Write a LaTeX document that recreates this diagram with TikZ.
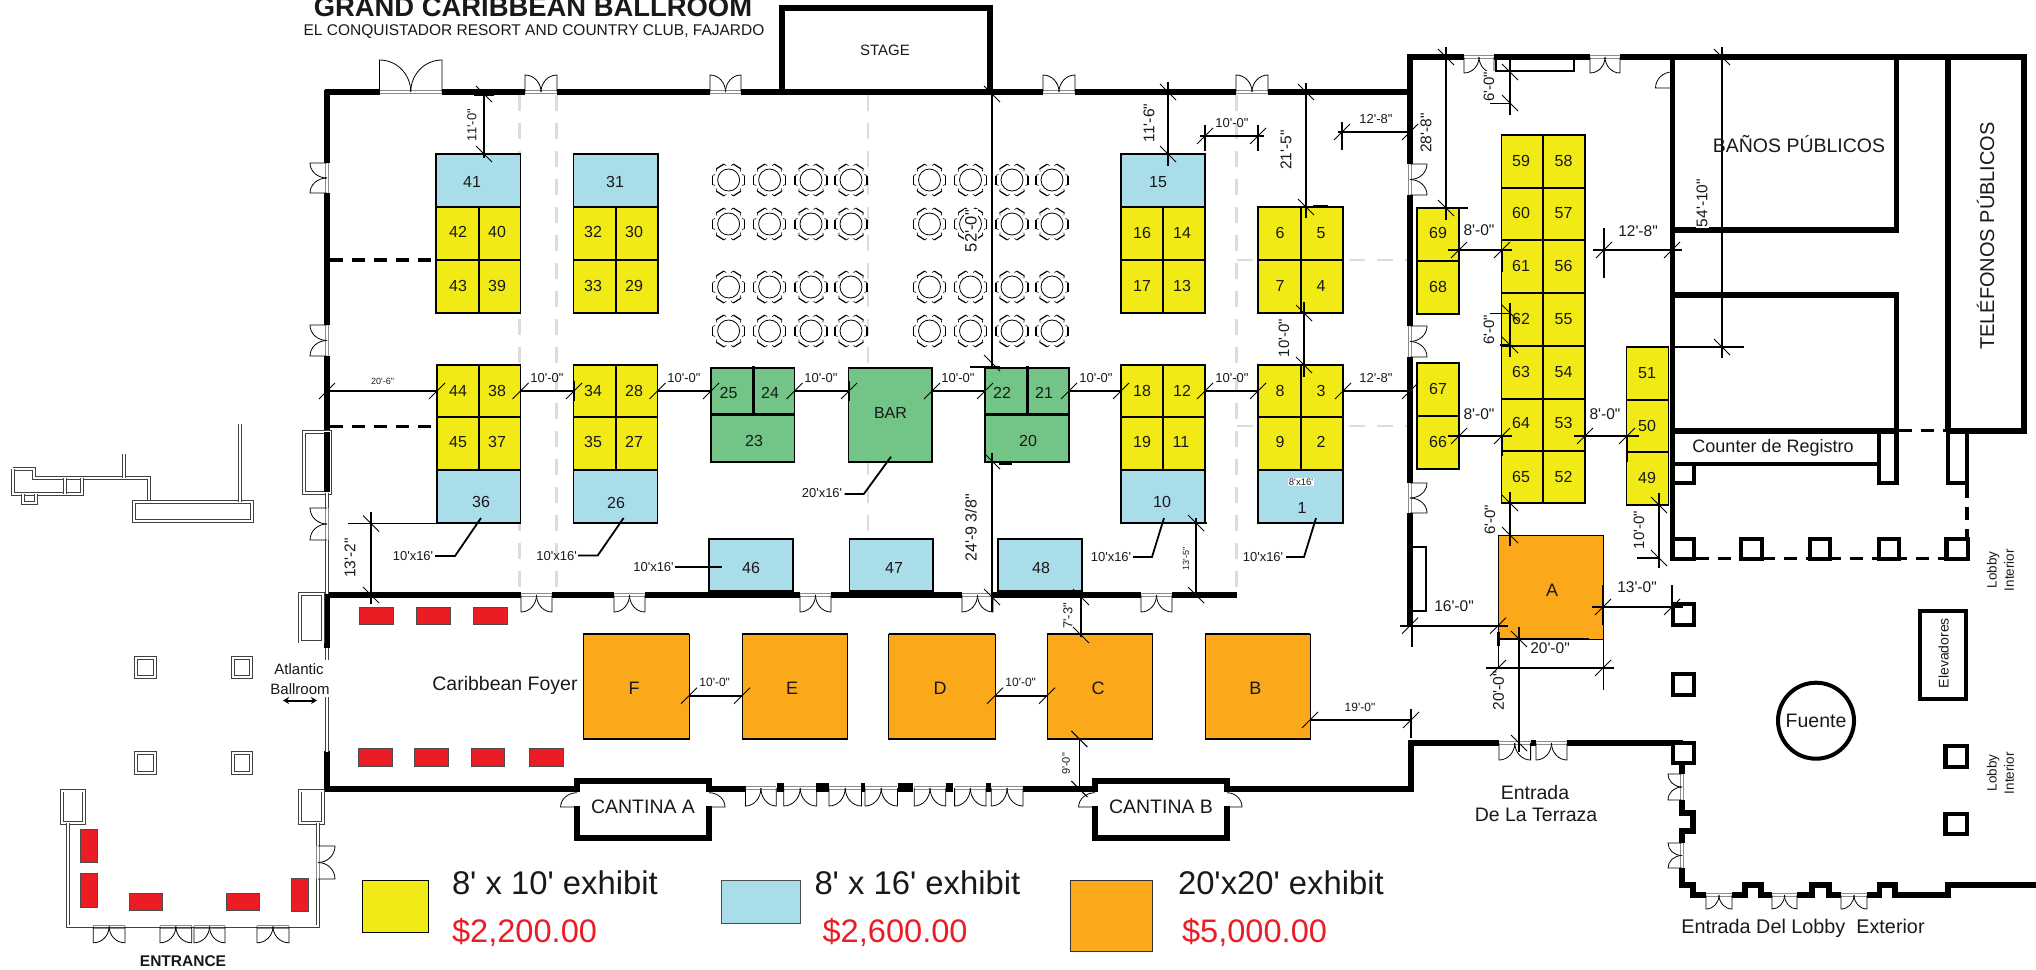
\documentclass[tikz,border=0pt]{standalone}
\usepackage{fontspec}
\usetikzlibrary{arrows.meta}
\newfontfamily\lib{Liberation Sans}
\definecolor{yel}{HTML}{F2EA14}
\definecolor{blu}{HTML}{A9DDEA}
\definecolor{org}{HTML}{FBA81B}
\definecolor{grn}{HTML}{73C487}
\definecolor{rd}{HTML}{EC1C24}
\definecolor{ltg}{HTML}{DCDCDC}
\tikzset{
 wall/.style={line width=5.6pt,line cap=butt,line join=miter},
 dwall/.style={double,double distance=2pt,line width=0.9pt,draw=black!75,line cap=butt},
 pil/.style={line width=4.4pt,fill=white,line join=miter},
 wall4/.style={line width=4.4pt,line join=miter},
 boothbox/.style={draw=black,line width=1.5pt},
 redbox/.style={draw=black!70,line width=0.6pt,fill=rd},
 ghost/.style={draw=ltg,line width=2.5pt,dash pattern=on 16pt off 12pt},
 thind/.style={line width=0.8pt,draw=black},
 dimln/.style={line width=1.9pt,line cap=butt},
 tk/.style={line width=1pt},
 ext/.style={line width=1.6pt},
 lead/.style={line width=1.8pt,line join=miter},
 wdash/.style={line width=3.5pt,dash pattern=on 13pt off 9pt},
 txt/.style={inner sep=0pt,outer sep=0pt,text=black!90},
}
% text
\newcommand{\tx}[4]{\node[txt,font=\lib\fontsize{#3}{#3}\selectfont] at (#1,#2) {#4};}
\newcommand{\txr}[4]{\node[txt,rotate=90,font=\lib\fontsize{#3}{#3}\selectfont] at (#1,#2) {#4};}
\newcommand{\txw}[4]{\node[txt,rotate=90,fill=white,inner sep=1pt,font=\lib\fontsize{#3}{#3}\selectfont] at (#1,#2) {#4};}
% booths
\newcommand{\bx}[5]{\fill[#1] (#2,#3) rectangle (#4,#5); \draw[boothbox] (#2,#3) rectangle (#4,#5);}
% double doors
\newcommand{\ddh}[4]{%
 \draw[draw=black!45,line width=0.8pt] (#1,#3-1.5)--(#2,#3-1.5) (#1,#3+1.5)--(#2,#3+1.5);
 \draw[thind] (#1,#3)--(#1,#4) .. controls ({#1+0.28*(#2-#1)},#4) and ({(#1+#2)/2},{#4+0.45*(#3-#4)}) .. ({(#1+#2)/2},#3);
 \draw[thind] (#2,#3)--(#2,#4) .. controls ({#2-0.28*(#2-#1)},#4) and ({(#1+#2)/2},{#4+0.45*(#3-#4)}) .. ({(#1+#2)/2},#3);}
\newcommand{\ddv}[4]{%
 \draw[draw=black!45,line width=0.8pt] (#3-1.5,#1)--(#3-1.5,#2) (#3+1.5,#1)--(#3+1.5,#2);
 \draw[thind] (#3,#1)--(#4,#1) .. controls (#4,{#1+0.28*(#2-#1)}) and ({#4+0.45*(#3-#4)},{(#1+#2)/2}) .. (#3,{(#1+#2)/2});
 \draw[thind] (#3,#2)--(#4,#2) .. controls (#4,{#2-0.28*(#2-#1)}) and ({#4+0.45*(#3-#4)},{(#1+#2)/2}) .. (#3,{(#1+#2)/2});}
\newcommand{\sdoor}[4]{\draw[thind] (#1,#2) .. controls ({#1+0.55*(#3-#1)},#2) and (#3,{#4-0.55*(#4-#2)}) .. (#3,#4) -- (#1,#4);}
% dimension pieces
\newcommand{\tickf}[2]{\draw[tk] ({#1-8},{#2+8})--({#1+8},{#2-8});}
\newcommand{\tickb}[2]{\draw[tk] ({#1-8},{#2-8})--({#1+8},{#2+8});}
\newcommand{\hdm}[5]{\draw[dimln] (#1,#3)--(#2,#3); \tickf{#4}{#3}\tickf{#5}{#3}}
\newcommand{\vdm}[5]{\draw[dimln] (#1,#2)--(#1,#3); \tickb{#1}{#4}\tickb{#1}{#5}}
% table with six chairs
\newcommand{\tbl}[2]{%
 \draw[line width=0.8pt,fill=white] (#1,#2) circle[radius=11pt];
 \foreach \a in {0,58,122,180,238,302}{%
  \begin{scope}[shift={(#1,#2)},rotate=\a]
   \draw[line width=1.2pt,line cap=butt] (16,-4.5)--(16,4.5);
   \draw[line width=0.6pt] (16,-4.5)--(13.5,-5.5) (16,4.5)--(13.5,5.5);
  \end{scope}}}
\begin{document}
\begin{tikzpicture}[x=1pt,y=-1pt]
\useasboundingbox (0,0) rectangle (2036,969);
\clip (0,0) rectangle (2036,969);
% ghost partition lines
\draw[ghost] (519.6,95)--(519.6,595);
\draw[ghost] (556.7,95)--(556.7,595);
\draw[ghost] (868,95)--(868,539);
\draw[ghost] (1236.7,95)--(1236.7,595);
\draw[ghost] (1237,260)--(1410,260);
\draw[ghost] (1237,426)--(1410,426);
% tables
\foreach \y in {180,224,287,331}{\foreach \x in {728.6,769.6,811,851,929.5,970.5,1012,1052}{\tbl{\x}{\y}}}
% yellow / blue / green booths
\foreach \xa/\xm/\xb in {436/479/520.5,573.7/616/658,1121/1163/1205}{
 \bx{blu}{\xa}{154}{\xb}{207}
 \bx{yel}{\xa}{207}{\xm}{260}\bx{yel}{\xm}{207}{\xb}{260}
 \bx{yel}{\xa}{260}{\xm}{313}\bx{yel}{\xm}{260}{\xb}{313}}
\bx{yel}{1258}{207}{1301}{260}\bx{yel}{1301}{207}{1343}{260}
\bx{yel}{1258}{260}{1301}{313}\bx{yel}{1301}{260}{1343}{313}
\foreach \xa/\xm/\xb in {437/479/520.5,573.7/616/657.5,1121/1163/1205,1258/1301/1343}{
 \bx{yel}{\xa}{365}{\xm}{417}\bx{yel}{\xm}{365}{\xb}{417}
 \bx{yel}{\xa}{417}{\xm}{470}\bx{yel}{\xm}{417}{\xb}{470}
 \bx{blu}{\xa}{470}{\xb}{523}}
\foreach \xa/\xb in {711/794.5,985/1069}{
 \bx{grn}{\xa}{368}{\xb}{462}
 \draw[line width=3pt] (\xa,414)--(\xb,414);}
\draw[line width=3pt] (753,366)--(753,414);
\draw[line width=3pt] (1027,366)--(1027,414);
\bx{grn}{848.6}{368}{932}{462}
\bx{blu}{709}{539}{793}{591}
\bx{blu}{849.5}{539}{933}{591}
\bx{blu}{998}{539}{1082}{591}
\foreach \ya/\yb in {208/261,261/314,363/416,416/469}{\bx{yel}{1417}{\ya}{1459}{\yb}}
\foreach \ya/\yb in {135/188,188/240,240/293,293/346,346/399,399/451,451/503}{
 \bx{yel}{1501.7}{\ya}{1543}{\yb}\bx{yel}{1543}{\ya}{1585}{\yb}}
\foreach \ya/\yb in {347/400,400/452,452/505}{\bx{yel}{1626.5}{\ya}{1668.5}{\yb}}
% orange booths
\foreach \xa/\xb in {583/689,742/847.5,888.6/995,1047/1152.7,1205/1310}{
 \fill[org] (\xa,634) rectangle (\xb,739);
 \draw[line width=0.8pt] (\xa,634) rectangle (\xb,739);
 \draw[line width=1.8pt] (\xa,634)--(\xb,634) (\xa,739)--(\xb,739);}
\fill[org] (1498,535) rectangle (1603,639);
\draw[line width=0.8pt] (1498,535) rectangle (1603,639);
% red boxes
\foreach \xa/\xb in {359/393,416/450,473.6/507}{\draw[redbox] (\xa,607) rectangle (\xb,624);}
\foreach \xa/\xb in {358/392,414.6/448,471/504,529/563}{\draw[redbox] (\xa,748) rectangle (\xb,766);}
\draw[redbox] (80,828.8) rectangle (97,862);
\draw[redbox] (80,873.6) rectangle (97,907);
\draw[redbox] (129,893.6) rectangle (162.7,910.7);
\draw[redbox] (226,893.6) rectangle (259.7,910.7);
\draw[redbox] (291.7,878) rectangle (308.7,911.5);
% hall walls
\draw[wall] (325,92)--(379.5,92) (442,92)--(525,92) (557,92)--(710,92) (741,92)--(1043,92) (1075,92)--(1236,92) (1268,92)--(1412,92);
\draw[wall] (327,90)--(327,163) (327,193)--(327,325) (327,356)--(327,492);
\draw[wall] (782,92)--(782,8)--(990,8)--(990,92);
\draw[wall] (325,595)--(521,595) (552,595)--(614,595) (645,595)--(800,595) (831,595)--(962,595) (993,595)--(1141,595) (1172,595)--(1237,595);
\draw[wall] (327,595)--(327,648);
\draw[wall] (327,751)--(327,789)--(577,789);
\draw[wall] (709,789)--(745.5,789) (1022.9,789)--(1095,789);
\draw[wall] (577,792)--(577,781)--(709,781)--(709,792);
\draw[wall] (577,806)--(577,838)--(709,838)--(709,806);
\draw[wall] (1095,792)--(1095,781)--(1227,781)--(1227,792);
\draw[wall] (1095,806)--(1095,838)--(1227,838)--(1227,806);
\draw[wall] (1227,789)--(1411,789)--(1411,743)--(1499,743) (1530.6,743)--(1536,743) (1567,743)--(1683,743);
\draw[wall] (1410,54)--(1410,164) (1410,195)--(1410,326) (1410,357)--(1410,483) (1410,513)--(1410,627);
\draw[line width=2.5pt] (1412,547)--(1426,547)--(1426,611)--(1412,611);
\draw[wall] (1408,57)--(1464,57) (1494,57)--(1590,57) (1620,57)--(2027,57);
\draw[line width=2.5pt] (1496,57)--(1496,71)--(1574,71)--(1574,57);
\draw[wall] (1672.6,57)--(1672.6,560);
\draw[wall] (1672,230)--(1896.6,230)--(1896.6,57);
\draw[wall] (1672,295)--(1896.6,295)--(1896.6,430.7)--(1672,430.7);
\draw[wall] (1948,57)--(1948,430.7);
\draw[wall] (2024,57)--(2024,430.7)--(1945.5,430.7);
\draw[wdash] (1899,430.7)--(1946,430.7);
\draw[wall4] (1672,464)--(1879,464);
\draw[wall4] (1879,430)--(1879,483)--(1896.6,483)--(1896.6,430);
\draw[wall4] (1672,483)--(1694,483)--(1694,464);
\draw[wall4] (1948,430)--(1948,483)--(1967,483)--(1967,430);
\draw[wdash] (1967,485)--(1967,540);
\draw[wdash] (1696,558.5)--(1946,558.5);
% pillars
\foreach \xa/\xb in {1672.6/1694,1740.8/1762,1810/1830,1878.7/1899,1946.4/1968}{\draw[pil] (\xa,539) rectangle (\xb,559);}
\foreach \ya/\yb in {604/625,674/695,743/763}{\draw[pil] (1673,\ya) rectangle (1694,\yb);}
\foreach \ya/\yb in {746/767,814/834}{\draw[pil] (1945.6,\ya) rectangle (1966.7,\yb);}
\draw[pil] (1920,610.7) rectangle (1966,699);
\draw[line width=4pt] (1816,720.7) circle[radius=38pt];
% exterior lobby wall
\draw[wall] (1682,762)--(1682,774);
\draw[wall] (1682,800)--(1682,812.7)--(1693,812.7)--(1693,830.7)--(1682,830.7)--(1682,843);
\draw[wall] (1682,868)--(1682,885)--(1693,885)--(1693,895)--(1706,895);
\draw[wall] (1732,895)--(1745,895)--(1745,885)--(1761,885)--(1761,895)--(1772,895);
\draw[wall] (1797,895)--(1812,895)--(1812,885)--(1829,885)--(1829,895)--(1841,895);
\draw[wall] (1867,895)--(1879.5,895)--(1879.5,885)--(1895,885)--(1895,895)--(1947.7,895)--(1947.7,885)--(2036,885);
% doors
\ddh{379.5}{442}{92}{60}
\ddh{525}{557}{92}{75}
\ddh{710}{741}{92}{75}
\ddh{1043}{1075}{92}{75}
\ddh{1236}{1268}{92}{75}
\ddv{163}{193}{327}{310}
\ddv{325}{356}{327}{310}
\ddh{521}{552}{595}{612}
\ddh{614}{645}{595}{612}
\ddh{800}{831}{595}{612}
\ddh{962}{993}{595}{612}
\ddh{1141}{1172}{595}{612}
\ddv{164}{195}{1410}{1427}
\ddv{326}{357}{1410}{1427}
\ddv{483}{513}{1410}{1427}
\ddh{1464}{1494}{57}{73}
\ddh{1590}{1620}{57}{73}
\sdoor{1672}{72}{1655.5}{88}
\ddh{1499}{1530.6}{743}{760}
\ddh{1536}{1567}{743}{760}
\foreach \xa/\xb in {745.5/776.3,783.7/816.7,829/861.5,865/897.4,914.3/945.8,954.6/986,991.3/1022.9}{\ddh{\xa}{\xb}{788}{806}}
\foreach \xa/\xb in {776.5/783.5,816/829,861/865,898/913,946/953,986/991}{\fill (\xa,783) rectangle (\xb,792);}
\sdoor{577}{792.7}{560.6}{807}
\sdoor{709}{792.7}{725}{807}
\sdoor{1095}{792.7}{1078.6}{807}
\sdoor{1227}{792.7}{1242}{807}
\ddv{774}{800}{1682}{1668}
\ddv{843}{868}{1682}{1668}
\ddh{1706}{1732}{895}{909}
\ddh{1772}{1797}{895}{909}
\ddh{1841}{1867}{895}{909}
% atlantic / entrance thin walls
\draw[dwall,fill=white] (304,432) rectangle (330,493);
\draw[wall] (327,432)--(327,492);
\draw[dwall] (327,493)--(327,594);
\ddv{508}{540}{327}{310}
\draw[dwall,fill=white] (300,594) rectangle (322.7,641.5);
\draw[dwall] (327,648)--(327,660) (327,697)--(327,751.5);
\draw[dwall,fill=white] (136,658) rectangle (155,677);
\draw[dwall,fill=white] (232.7,658) rectangle (251,677);
\draw[dwall,fill=white] (136,753) rectangle (155,772.7);
\draw[dwall,fill=white] (232.7,753) rectangle (251,772.7);
\draw[dwall,fill=white] (61.7,790.5) rectangle (84.3,822.6);
\draw[dwall,fill=white] (300,790.5) rectangle (322.7,822.6);
\draw[dwall] (67.7,822.6)--(67.7,926.4)--(318,926.4)--(318,822.6);
\ddv{846}{879}{318}{335}
\ddh{93.3}{125}{926.4}{942.8}
\ddh{160}{191.7}{926.4}{942.8}
\ddh{194}{225}{926.4}{942.8}
\ddh{257}{289}{926.4}{942.8}
\draw[dwall] (12.7,469)--(34.3,469)--(34.3,477.7)--(149.3,477.7)--(149.3,502);
\draw[dwall] (12.7,469)--(12.7,494)--(81.7,494)--(81.7,477.7);
\draw[dwall] (65,477.7)--(65,494);
\draw[dwall] (22.7,494)--(22.7,503.3)--(36.3,503.3)--(36.3,494);
\draw[dwall] (124.3,477.7)--(124.3,454.3);
\draw[dwall,fill=white] (134.3,502.3) rectangle (252.3,520.7);
\draw[dwall] (239.7,502)--(239.7,424);
\draw[{Stealth[length=6pt,width=7pt]}-{Stealth[length=6pt,width=7pt]},line width=2pt] (283,700.5)--(317,700.5);
% dashed stubs
\draw[wdash] (330,260)--(436,260);
\draw[wdash] (330,426.6)--(437,426.6);
% row of horizontal dimensions
\foreach \xa/\xb in {327/437,520.5/574,657.5/711,794.5/849,932/985,1069/1121,1205/1258,1343/1410}{
 \hdm{\xa}{\xb}{391}{\xa}{\xb}
 \draw[ext] (\xa,381)--(\xa,401) (\xb,381)--(\xb,401);}
\tx{382.5}{381}{9}{20'-6"}
\foreach \x in {547,684,821,958,1096,1232}{\tx{\x}{378}{13}{10'-0"}}
\tx{1376}{378}{13}{12'-8"}
% vertical dimensions
\vdm{484}{92}{158}{94}{154}
\draw[ext] (474,95)--(494,95);
\txr{472}{125}{13}{11'-0"}
\vdm{992}{90}{367}{94}{363}
\draw[line width=2pt] (969.5,367)--(1000,367);
\txw{971}{231}{16.5}{52'-0"}
\draw[dimln] (992,453)--(992,612); \tickb{992}{461}\tickb{992}{597}
\draw[line width=3pt] (998.6,463)--(1012,463);
\txr{971}{528}{16}{24'-9 3/8"}
\vdm{1168}{82}{166}{92}{154}
\draw[ext] (1178,154)--(1190,154);
\txr{1149}{123}{15.5}{11'-6"}
\vdm{1306}{83}{218}{92}{207}
\draw[ext] (1313,206)--(1328,206);
\txr{1286}{150}{15.5}{21'-5"}
\hdm{1200}{1264}{136}{1205}{1258}
\draw[ext] (1205,125)--(1205,151) (1258,125)--(1258,151);
\tx{1232}{123}{13}{10'-0"}
\hdm{1338}{1412}{132}{1342}{1410}
\draw[ext] (1342,122)--(1342,150);
\tx{1376}{119}{13}{12'-8"}
\vdm{1446}{47}{220}{57}{208}
\draw[ext] (1417,208)--(1468,208);
\txr{1426}{133}{15.5}{28'-8"}
\hdm{1448}{1512}{250}{1459}{1502}
\draw[ext] (1459,250)--(1459,272) (1502,250)--(1502,272);
\tx{1479}{230}{15.5}{8'-0"}
\hdm{1448}{1512}{436}{1459}{1502}
\draw[ext] (1459,436)--(1459,456) (1502,436)--(1502,456);
\tx{1479}{414}{15.5}{8'-0"}
\draw[dimln] (1510,58)--(1510,115); \tickb{1510}{72}\tickb{1510}{103}
\draw[line width=1pt] (1490,103)--(1510,103);
\txw{1489}{87}{15}{6'-0"}
\draw[line width=2.4pt] (1510,303)--(1510,357); \tickb{1510}{313}\tickb{1510}{345}
\draw[line width=1pt] (1490,313)--(1510,313);
\draw[line width=2pt] (1500,345)--(1510,345);
\txw{1489}{330}{15}{6'-0"}
\vdm{1304}{302}{377}{313}{365}
\draw[ext] (1283,313)--(1304,313) (1283,365)--(1304,365);
\txr{1284}{338}{15}{10'-0"}
\hdm{1593}{1682}{250}{1604}{1672}
\draw[ext] (1604,228)--(1604,278);
\tx{1638}{231}{15.5}{12'-8"}
\draw[line width=1.5pt] (1722,47)--(1722,358); \tickb{1722}{57}\tickb{1722}{347}
\draw[ext] (1672,347)--(1744,347);
\txw{1702}{203}{15.5}{54'-10"}
\hdm{1573.5}{1638.5}{436}{1585}{1627}
\draw[ext] (1627,436)--(1627,462) (1585,436)--(1585,457);
\tx{1605}{414}{15.5}{8'-0"}
\vdm{1510}{492}{546}{503}{535}
\txr{1490}{520}{15}{6'-0"}
\vdm{1659}{493}{568}{505}{558}
\draw[ext] (1637,558)--(1659,558) (1638.5,505)--(1659,505);
\txr{1639}{530}{15}{10'-0"}
\hdm{1592}{1683}{607}{1603}{1672}
\draw[ext] (1603,585)--(1603,625) (1672,585)--(1672,607);
\tx{1637}{587}{15.5}{13'-0"}
\hdm{1400}{1507.5}{625.7}{1410}{1498}
\draw[ext] (1412,627)--(1412,646.7);
\tx{1454}{605.7}{15.5}{16'-0"}
\hdm{1486}{1614}{668}{1498}{1603}
\draw[line width=0.9pt] (1498,639)--(1498,668) (1603,639)--(1603,690);
\draw[line width=2.5pt] (1498,639)--(1589,639);
\draw[line width=3pt] (1498,632)--(1498,646);
\tx{1550}{648}{15.5}{20'-0"}
\vdm{1519}{627}{752}{639}{743}
\txr{1498.6}{690.7}{15.5}{20'-0"}
\vdm{1081}{595}{637}{597}{635}
\txr{1068}{616}{13}{7'-3"}
\vdm{1196}{518}{595}{523}{595}
\draw[ext] (1196,523)--(1207,523);
\txr{1186}{559}{9}{13'-5"}
\draw[line width=1pt] (1079.4,739)--(1079.4,789); \tickb{1079.4}{739}\tickb{1079.4}{789}
\draw[ext] (1079,739)--(1090,739);
\txr{1066}{764}{11}{9'-0"}
\vdm{371}{512}{604}{523.5}{595}
\draw[ext] (348,523.5)--(437,523.5);
\draw[line width=2.5pt] (348,593)--(435,593);
\txr{350}{558}{15.5}{13'-2"}
\hdm{689}{742}{695.7}{689}{742}
\tx{714.7}{682.7}{12}{10'-0"}
\hdm{995}{1047}{695.7}{995}{1047}
\tx{1020.7}{682.7}{12}{10'-0"}
\hdm{1310}{1411}{720}{1310}{1411}
\draw[ext] (1411,709)--(1411,738);
\tx{1360}{707.7}{12}{19'-0"}
% leader labels
\tx{413}{556}{13}{10'x16'}
\draw[lead] (435,556)--(455,556)--(481,518);
\tx{556.6}{555.7}{13}{10'x16'}
\draw[lead] (578,555.5)--(597.7,555.5)--(623.6,518);
\tx{653.5}{566.7}{13}{10'x16'}
\draw[lead] (675,567)--(721.8,567);
\tx{822}{493}{13}{20'x16'}
\draw[lead] (844.5,494)--(863.8,494)--(891,456.7);
\tx{1111}{557}{13}{10'x16'}
\draw[lead] (1133,557)--(1152,557)--(1164,518);
\tx{1263}{557}{13}{10'x16'}
\draw[lead] (1286,557)--(1304,557)--(1316,518);
% booth numbers
\foreach \x/\y/\t in {472/182/41,615/182/31,458/232/42,497/232/40,458/286/43,497/286/39,593/232/32,634/232/30,593/286/33,634/286/29,
 458/391/44,497/391/38,458/442/45,497/442/37,481/502/36,593/391/34,634/391/28,593/442/35,634/442/27,616/503/26,
 728.5/393/25,770/393/24,754/441/23,1002/393/22,1044/393/21,1028/441/20,751/568/46,894/568/47,1041/568/48,
 1142/391/18,1182/391/12,1142/442/19,1181/442/11,1162/502/10,1280/391/8,1321/391/3,1280/442/9,1321/442/2,1302/508/1,
 1158/182/15,1142/233/16,1182/233/14,1142/286/17,1182/286/13,1280/233/6,1321/233/5,1280/286/7,1321/286/4,
 1438/233/69,1438/287/68,1438/389/67,1438/442/66,
 1521/161/59,1563.6/161/58,1521/213/60,1563.6/213/57,1521/266/61,1563.6/266/56,1521/319/62,1563.6/319/55,
 1521/372/63,1563.6/372/54,1521/423/64,1563.6/423/53,1521/477/65,1563.6/477/52,1647/373/51,1647/426/50,1647/478/49}{\tx{\x}{\y}{16}{\t}}
\node[txt,fill=white,inner sep=1pt,font=\lib\fontsize{9.5}{9.5}\selectfont] at (1301,482) {8'x16'};
\foreach \x/\t in {634/F,792/E,940/D,1098/C,1255.4/B}{\tx{\x}{688}{18}{\t}}
\tx{1552}{590.7}{18}{A}
\tx{890.5}{413}{16}{BAR}
% room labels
\node[txt,font=\lib\bfseries\fontsize{27.4}{27.4}\selectfont] at (533,7) {GRAND CARIBBEAN BALLROOM};
\tx{534}{32}{15.5}{EL CONQUISTADOR RESORT AND COUNTRY CLUB, FAJARDO}
\tx{885}{50}{15}{STAGE}
\tx{1799}{144}{19.5}{BAÑOS PÚBLICOS}
\txr{1985.5}{236}{20}{TELÉFONOS PÚBLICOS}
\tx{1773}{448}{18}{Counter de Registro}
\tx{1535}{793}{19.5}{Entrada}
\tx{1536}{815}{19.5}{De La Terraza}
\tx{1803}{928}{19.8}{Entrada Del Lobby\ \ Exterior}
\txr{1943.6}{653}{14}{Elevadores}
\tx{1816}{720.7}{19.5}{Fuente}
\txr{1993}{570}{13.5}{Lobby}
\txr{2009}{570}{13.5}{Interior}
\txr{1993}{773}{13.5}{Lobby}
\txr{2009}{773}{13.5}{Interior}
\tx{299}{669.6}{15}{Atlantic}
\tx{300}{689}{15}{Ballroom}
\node[txt,font=\lib\bfseries\fontsize{15.5}{15.5}\selectfont] at (183,961) {ENTRANCE};
\tx{505}{685}{19.5}{Caribbean Foyer}
\tx{643}{807}{19.5}{CANTINA A}
\tx{1161}{807}{19.5}{CANTINA B}
% legend
\draw[line width=0.8pt,fill=yel] (362.5,880) rectangle (428,932.6);
\draw[line width=0.8pt,draw=black!70,fill=blu] (721,880) rectangle (800.6,923);
\draw[line width=0.8pt,draw=black!80,fill=org] (1070,880) rectangle (1152.7,951);
\node[txt,anchor=west,font=\lib\fontsize{32.8}{32.8}\selectfont] at (452,883) {8' x 10' exhibit};
\node[txt,anchor=west,font=\lib\fontsize{32.8}{32.8}\selectfont] at (814.5,883) {8' x 16' exhibit};
\node[txt,anchor=west,font=\lib\fontsize{32.8}{32.8}\selectfont] at (1178,883) {20'x20' exhibit};
\node[txt,anchor=west,text=rd,font=\lib\fontsize{32.6}{32.6}\selectfont] at (452,933) {\$2,200.00};
\node[txt,anchor=west,text=rd,font=\lib\fontsize{32.6}{32.6}\selectfont] at (822.6,933) {\$2,600.00};
\node[txt,anchor=west,text=rd,font=\lib\fontsize{32.6}{32.6}\selectfont] at (1182,933) {\$5,000.00};
\end{tikzpicture}
\end{document}
